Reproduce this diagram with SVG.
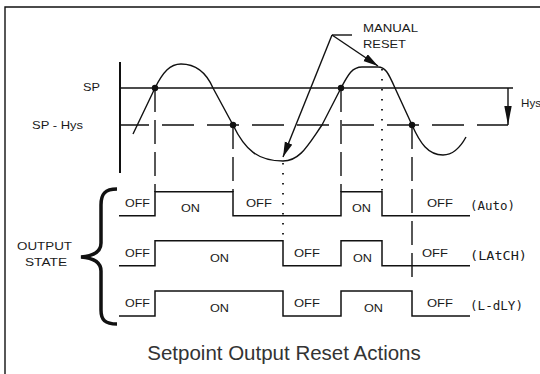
<svg xmlns="http://www.w3.org/2000/svg" width="540" height="374" viewBox="0 0 540 374">
<style>
.t{font-family:"Liberation Sans",Arial,sans-serif;font-size:11px;fill:#1a1a1a}
.m{font-family:"DejaVu Sans Mono","Liberation Mono",monospace;font-size:12.5px;fill:#1a1a1a}
.ln{stroke:#111;stroke-width:1.4;fill:none}
.dash{stroke:#111;stroke-width:1.4;fill:none;stroke-dasharray:24 8}
.dot{stroke:#111;stroke-width:1.8;fill:none;stroke-dasharray:1.6 8.4}
.wave{stroke:#111;stroke-width:1.5;fill:none}
</style>
<defs>
<marker id="ah" markerUnits="userSpaceOnUse" markerWidth="16" markerHeight="10" refX="15" refY="4" orient="auto">
<path d="M0,0 L15,4 L0,8 z" fill="#111"/>
</marker>
<marker id="ahHys" markerUnits="userSpaceOnUse" markerWidth="20" markerHeight="10" refX="19" refY="3.7" orient="auto">
<path d="M0,0 L19,3.7 L0,7.4 z" fill="#111"/>
</marker>
</defs>
<rect width="540" height="374" fill="#fff"/>
<g id="frame"><path d="M5,374 V7 H540" class="ln" stroke-width="1.5"/></g>

<g id="chart">
<line x1="120" y1="62" x2="120" y2="173" stroke="#111" stroke-width="2"/>
<line x1="120" y1="88" x2="513" y2="88" class="ln"/>
<line x1="120" y1="125" x2="508" y2="125" class="ln" stroke-dasharray="32 13" stroke-dashoffset="3"/>
<path d="M133,134 L155,88 C163,72 170,64 181,64 C196,64 206,72 213,88 L233,125 C245,150 258,161 283,161 C300,161 308,145 322,125 L341,88 C348,75 352,67 362,67 L378,67 C385,67 388,72 395,88 L412,125 C420,143 428,155 443,155 C452,155 460,148 466,137" class="ln" stroke-width="1.5"/>
<circle cx="155" cy="88" r="3.2" fill="#111"/>
<circle cx="233" cy="125" r="3.2" fill="#111"/>
<circle cx="341" cy="88" r="3.2" fill="#111"/>
<circle cx="412" cy="125" r="3.2" fill="#111"/>
<text class="t" x="83" y="91" textLength="17" lengthAdjust="spacingAndGlyphs">SP</text>
<text class="t" x="32" y="128.5" textLength="51" lengthAdjust="spacingAndGlyphs">SP - Hys</text>
<text class="t" x="521" y="107" textLength="20" lengthAdjust="spacingAndGlyphs">Hys</text>
</g>

<g id="manual-reset">
<text class="t" x="363" y="32" textLength="55" lengthAdjust="spacingAndGlyphs">MANUAL</text>
<text class="t" x="363" y="48" textLength="43" lengthAdjust="spacingAndGlyphs">RESET</text>
</g>

<g id="connectors">
<line x1="508" y1="88" x2="508" y2="125" class="ln" marker-end="url(#ahHys)"/>
<line x1="332" y1="35" x2="352" y2="35" class="ln"/>
<line x1="332" y1="35" x2="378" y2="66" class="ln" marker-end="url(#ah)"/>
<line x1="332" y1="35" x2="283" y2="157" class="ln" marker-end="url(#ah)"/>
<line x1="155" y1="88" x2="155" y2="192" class="dash"/>
<line x1="233" y1="125" x2="233" y2="192" class="dash"/>
<line x1="341" y1="88" x2="341" y2="192" class="dash" stroke-dasharray="24 12"/>
<line x1="412" y1="125" x2="412" y2="279" class="dash"/>
<line x1="283" y1="163" x2="283" y2="241" class="dot"/>
<line x1="382" y1="69" x2="382" y2="192" class="dot"/>
</g>

<g id="output-state">
<path d="M117,189 C105,189 101,194 101,205 L101,243 C101,252 93,256 81,257 C93,258 101,262 101,271 L101,310 C101,320 105,324 117,324" stroke="#111" stroke-width="3.5" fill="none"/>
<text class="t" x="44.5" y="250" text-anchor="middle" textLength="55" lengthAdjust="spacingAndGlyphs">OUTPUT</text>
<text class="t" x="46" y="266" text-anchor="middle" textLength="42" lengthAdjust="spacingAndGlyphs">STATE</text>
</g>

<g id="row-auto">
<path d="M119,215.7 H155 V191.7 H233 V215.7 H341 V191.7 H382 V215.7 H470" class="wave"/>
<text class="t" x="125" y="207" textLength="25" lengthAdjust="spacingAndGlyphs">OFF</text>
<text class="t" x="181" y="212" textLength="19" lengthAdjust="spacingAndGlyphs">ON</text>
<text class="t" x="246" y="207" textLength="26" lengthAdjust="spacingAndGlyphs">OFF</text>
<text class="t" x="352" y="212" textLength="19" lengthAdjust="spacingAndGlyphs">ON</text>
<text class="t" x="427" y="207" textLength="26" lengthAdjust="spacingAndGlyphs">OFF</text>
<text class="m" x="470" y="210" textLength="45" lengthAdjust="spacingAndGlyphs">(Auto)</text>
</g>

<g id="row-latch">
<path d="M119,265.7 H155 V240.7 H283 V265.7 H341 V240.7 H382 V265.7 H470" class="wave"/>
<text class="t" x="125" y="257" textLength="25" lengthAdjust="spacingAndGlyphs">OFF</text>
<text class="t" x="210" y="262" textLength="19" lengthAdjust="spacingAndGlyphs">ON</text>
<text class="t" x="294" y="257" textLength="26" lengthAdjust="spacingAndGlyphs">OFF</text>
<text class="t" x="353" y="262" textLength="19" lengthAdjust="spacingAndGlyphs">ON</text>
<text class="t" x="422" y="257" textLength="26" lengthAdjust="spacingAndGlyphs">OFF</text>
<text class="m" x="470" y="260" textLength="57" lengthAdjust="spacingAndGlyphs">(LAtCH)</text>
</g>

<g id="row-ldly">
<path d="M119,316 H155 V291 H283 V316 H341 V291 H412 V316 H470" class="wave"/>
<text class="t" x="125" y="307" textLength="25" lengthAdjust="spacingAndGlyphs">OFF</text>
<text class="t" x="210" y="312" textLength="19" lengthAdjust="spacingAndGlyphs">ON</text>
<text class="t" x="294" y="307" textLength="26" lengthAdjust="spacingAndGlyphs">OFF</text>
<text class="t" x="364" y="312" textLength="19" lengthAdjust="spacingAndGlyphs">ON</text>
<text class="t" x="427" y="307" textLength="26" lengthAdjust="spacingAndGlyphs">OFF</text>
<text class="m" x="470" y="310" textLength="53" lengthAdjust="spacingAndGlyphs">(L-dLY)</text>
</g>

<g id="title">
<text x="284" y="360" text-anchor="middle" font-family="'Liberation Sans',Arial,sans-serif" font-size="20.5" fill="#333">Setpoint Output Reset Actions</text>
</g>
</svg>
